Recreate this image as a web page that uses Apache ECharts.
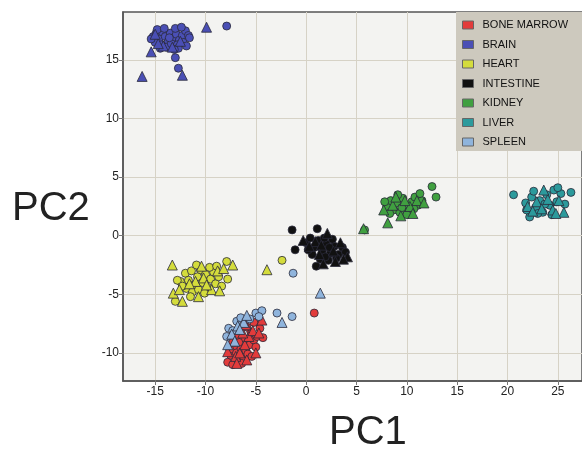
<!DOCTYPE html>
<html>
<head>
<meta charset="utf-8">
<script src="https://cdn.jsdelivr.net/npm/echarts@6/dist/echarts.min.js"></script>
<style>html,body{margin:0;padding:0;background:#fff;}#c{width:582px;height:450px;}</style>
</head>
<body>
<div id="c"></div>
<script>
const tissues = ['BONE MARROW','BRAIN','HEART','INTESTINE','KIDNEY','LIVER','SPLEEN'];
const colors = ['#e23b3b','#4a4fb5','#d4dc3c','#111111','#40a040','#2c9a9c','#8fb4dc'];
const xTicks = [-15,-10,-5,0,5,10,15,20,25];
const yTicks = [-10,-5,0,5,10,15];

const boneMarrowCircles = [[-7.8,-10.8],[-7.3,-11.0],[-6.8,-10.6],[-6.2,-10.4],[-7.5,-10.2],[-7.0,-9.9],[-6.5,-9.6],[-6.0,-9.8],[-5.6,-9.3],[-5.2,-8.9],[-4.9,-8.6],[-4.3,-8.7],[-4.8,-7.4],[-5.2,-7.4],[-5.5,-8.2],[-6.1,-8.8],[-6.7,-9.1],[-7.2,-9.4],[-5.8,-10.1],[-6.4,-10.9],[-5.0,-9.5],[-4.6,-7.9],[-5.9,-7.8],[-6.9,-8.5],[0.8,-6.6],[-7.6,-9.7],[-5.4,-10.3]];
const boneMarrowTriangles = [[-7.0,-10.3],[-6.6,-10.0],[-6.1,-9.3],[-5.7,-8.6],[-5.3,-8.1],[-4.7,-8.3],[-6.3,-8.3],[-7.4,-9.0],[-6.9,-10.9],[-5.0,-10.0],[-4.4,-7.2],[-5.9,-10.6],[-7.8,-9.9],[-6.0,-7.6]];
const brainCircles = [[-15.2,17.0],[-14.9,17.3],[-14.6,16.8],[-14.3,17.4],[-14.0,17.0],[-13.7,16.6],[-13.5,17.3],[-13.2,16.9],[-12.9,17.2],[-12.6,16.7],[-12.3,17.1],[-12.0,17.5],[-11.7,17.1],[-15.0,16.5],[-14.4,16.3],[-13.9,16.1],[-13.4,16.4],[-12.8,16.3],[-12.2,16.5],[-11.6,16.9],[-14.8,17.6],[-14.1,17.7],[-13.0,17.7],[-12.4,17.8],[-15.4,16.8],[-13.6,16.9],[-12.7,16.0],[-11.9,16.2],[-14.5,16.0],[-13.1,15.9],[-7.9,17.9],[-13.0,15.2],[-12.7,14.3]];
const brainTriangles = [[-15.4,15.7],[-14.2,16.2],[-9.9,17.8],[-12.3,13.7],[-16.3,13.6],[-14.7,16.4],[-13.3,16.1],[-15.0,17.2],[-12.5,16.6]];
const heartCircles = [[-12.0,-3.2],[-11.7,-3.8],[-11.4,-3.0],[-11.1,-4.2],[-10.8,-3.5],[-10.5,-2.9],[-10.3,-4.0],[-10.0,-3.3],[-9.8,-4.4],[-9.5,-3.7],[-9.2,-3.1],[-9.0,-4.1],[-8.7,-3.5],[-8.4,-4.3],[-11.9,-4.5],[-11.3,-4.8],[-10.7,-4.6],[-10.1,-4.9],[-9.6,-2.7],[-12.5,-3.9],[-12.8,-3.8],[-7.9,-2.2],[-7.8,-3.7],[-13.0,-5.6],[-11.5,-5.2],[-10.9,-2.5],[-2.4,-2.1],[-8.9,-2.6],[-12.3,-4.3]];
const heartTriangles = [[-13.3,-2.5],[-7.3,-2.5],[-13.2,-4.9],[-12.3,-5.6],[-10.7,-5.2],[-11.0,-3.9],[-10.2,-3.6],[-9.4,-4.6],[-8.8,-3.0],[-8.2,-2.8],[-9.9,-4.2],[-11.6,-4.1],[-12.6,-4.6],[-3.9,-2.9],[-8.6,-4.7],[-10.4,-2.6]];
const intestineCircles = [[-1.4,0.5],[1.1,0.6],[-1.1,-1.2],[1.0,-2.6],[0.0,-0.6],[0.4,-0.2],[0.8,-1.0],[1.2,-0.4],[1.6,-1.3],[2.0,-0.7],[2.4,-1.5],[2.8,-0.9],[3.2,-1.6],[3.6,-1.0],[0.6,-1.6],[1.4,-2.0],[2.2,-2.1],[3.0,-1.9],[1.8,-0.2],[2.6,-0.3],[3.9,-1.4],[0.2,-1.2],[1.9,-1.8],[2.3,-1.0]];
const intestineTriangles = [[-0.3,-0.4],[0.9,-0.5],[1.5,-0.8],[2.1,0.2],[2.7,-1.3],[3.4,-0.6],[4.1,-1.8],[1.3,-1.6],[0.3,-0.9],[2.9,-2.2],[3.7,-2.0],[1.7,-2.4]];
const kidneyCircles = [[8.0,2.5],[8.4,3.0],[8.7,2.2],[9.0,2.8],[9.3,2.0],[9.6,3.2],[9.9,2.6],[10.2,2.1],[10.5,2.9],[10.8,3.3],[11.1,2.6],[11.5,3.0],[8.3,1.9],[9.1,3.5],[10.0,1.8],[10.7,2.3],[11.3,3.6],[12.5,4.2],[12.9,3.3],[5.8,0.5],[7.8,2.9],[9.5,2.4]];
const kidneyTriangles = [[8.1,1.1],[5.7,0.6],[8.6,2.6],[9.4,1.7],[10.3,2.5],[11.0,3.0],[11.7,2.8],[8.9,3.3],[10.6,1.9],[7.7,2.2],[9.8,3.0]];
const liverCircles = [[20.6,3.5],[22.2,1.6],[26.3,3.7],[21.8,2.8],[22.4,3.3],[22.8,2.4],[23.2,3.0],[23.5,2.0],[23.9,3.5],[24.2,2.6],[24.6,3.9],[24.9,2.9],[25.3,3.6],[25.7,2.7],[23.0,1.9],[24.4,1.8],[22.6,3.8],[25.0,4.1],[23.7,2.7],[21.9,2.2]];
const liverTriangles = [[22.0,2.5],[22.9,2.9],[23.4,2.3],[24.0,3.1],[24.5,2.2],[25.1,3.0],[25.6,2.0],[24.8,1.9],[23.6,3.9],[22.5,2.1]];
const spleenCircles = [[-2.9,-6.6],[-1.4,-6.9],[-5.0,-6.6],[-4.4,-6.4],[-7.7,-7.9],[-6.9,-7.3],[-1.3,-3.2],[-7.3,-8.1],[-6.5,-7.0],[-7.9,-8.6],[-4.7,-6.9],[-5.6,-7.1]];
const spleenTriangles = [[-2.4,-7.4],[1.4,-4.9],[-7.4,-8.4],[-6.8,-7.7],[-7.1,-9.0],[-6.2,-7.4],[-7.8,-9.3],[-5.9,-6.8],[-6.6,-8.0]];

const groups = [
  [boneMarrowCircles, boneMarrowTriangles],
  [brainCircles, brainTriangles],
  [heartCircles, heartTriangles],
  [intestineCircles, intestineTriangles],
  [kidneyCircles, kidneyTriangles],
  [liverCircles, liverTriangles],
  [spleenCircles, spleenTriangles]
];

const series = [];
groups.forEach((g, i) => {
  series.push({
    name: tissues[i], type: 'scatter', data: g[0], symbol: 'circle', symbolSize: 8,
    itemStyle: { color: colors[i], borderColor: '#2a2a3a', borderWidth: 0.8, opacity: 1 }
  });
  series.push({
    name: tissues[i], type: 'scatter', data: g[1], symbol: 'triangle', symbolSize: 10,
    itemStyle: { color: colors[i], borderColor: '#2a2a3a', borderWidth: 0.8, opacity: 1 }
  });
});

const chart = echarts.init(document.getElementById('c'));
chart.setOption({
  animation: false,
  backgroundColor: '#ffffff',
  grid: { left: 123, right: 0, top: 12, bottom: 69, show: true, backgroundColor: '#f3f3f1', borderColor: '#555555', borderWidth: 1.5 },
  xAxis: {
    type: 'value', min: -18.2, max: 27.4,
    axisLine: { show: true, onZero: false, lineStyle: { color: '#555', width: 1.5 } },
    axisTick: { show: true, length: 4, customValues: xTicks, lineStyle: { color: '#777' } },
    axisLabel: { customValues: xTicks, color: '#222', fontSize: 12, fontFamily: 'Arial, Liberation Sans', margin: 5 },
    splitLine: { show: true, lineStyle: { color: '#d6d2c6', width: 1 } }
  },
  yAxis: {
    type: 'value', min: -12.4, max: 19.1,
    axisLine: { show: true, onZero: false, lineStyle: { color: '#555', width: 1.5 } },
    axisTick: { show: true, length: 4, customValues: yTicks, lineStyle: { color: '#777' } },
    axisLabel: { customValues: yTicks, color: '#222', fontSize: 12, fontFamily: 'Arial, Liberation Sans', margin: 4 },
    splitLine: { show: true, lineStyle: { color: '#d6d2c6', width: 1 } }
  },
  legend: {
    orient: 'vertical', left: 456, top: 12,
    data: tissues.map((t, i) => ({ name: t, icon: 'rect', itemStyle: { color: colors[i], borderColor: '#666', borderWidth: 1 } })),
    itemWidth: 11, itemHeight: 8, itemGap: 5.5,
    padding: [6, 40, 2, 6],
    backgroundColor: '#cdc9be',
    textStyle: { color: '#111', fontSize: 11, lineHeight: 14, fontFamily: 'Liberation Sans, Arial', padding: [0, 0, 0, 4] }
  },
  graphic: [
    { type: 'text', left: 12, top: 189, style: { text: 'PC2', fontSize: 40, fontFamily: 'Arial, Liberation Sans', fill: '#222' } },
    { type: 'text', left: 329, top: 413, style: { text: 'PC1', fontSize: 40, fontFamily: 'Arial, Liberation Sans', fill: '#222' } }
  ],
  series: series
});
</script>
</body>
</html>
